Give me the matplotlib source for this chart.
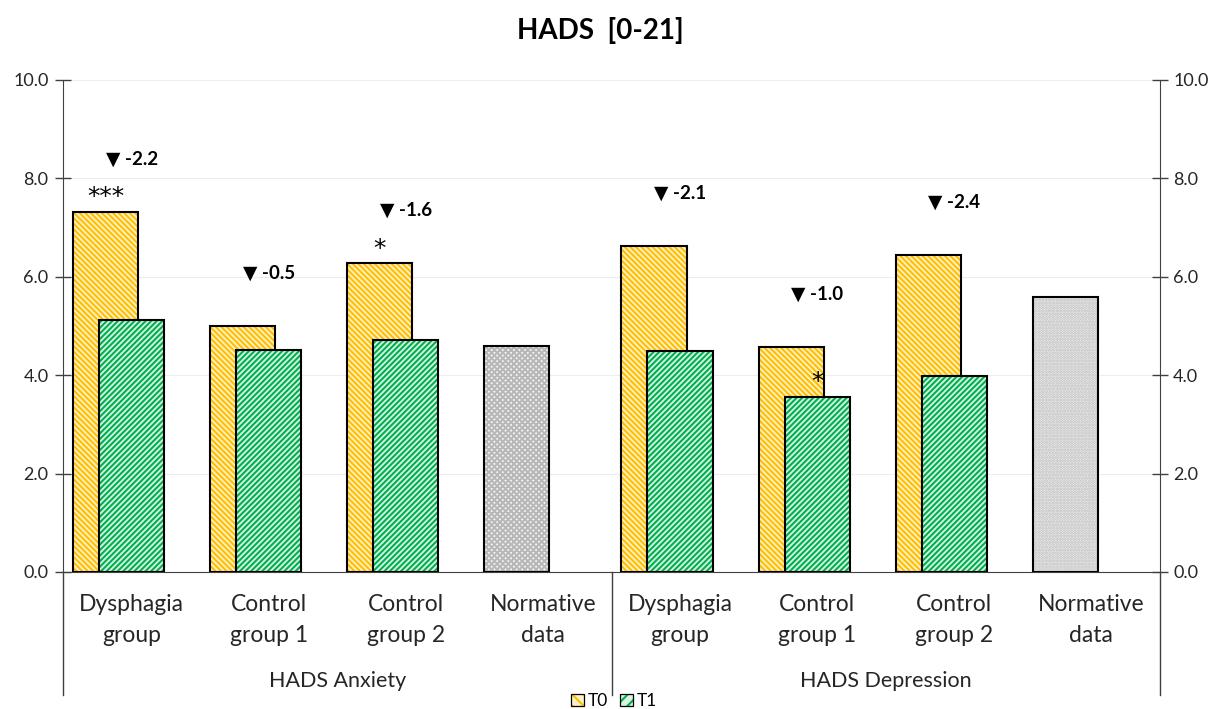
import matplotlib
matplotlib.use("Agg")
import matplotlib.pyplot as plt
import matplotlib.transforms as mtransforms
from matplotlib.patches import Patch
from matplotlib.lines import Line2D
from matplotlib.legend_handler import HandlerTuple
import numpy as np

plt.rcParams['font.family'] = ['Lato', 'DejaVu Sans']
plt.rcParams['hatch.linewidth'] = 1.5

# ---- data ----
categories = ["Dysphagia\ngroup", "Control\ngroup 1", "Control\ngroup 2", "Normative\ndata",
              "Dysphagia\ngroup", "Control\ngroup 1", "Control\ngroup 2", "Normative\ndata"]
groups = ["HADS Anxiety", "HADS Depression"]
study_idx = [0, 1, 2, 4, 5, 6]
norm_idx = [3, 7]
t0 = [7.32, 5.00, 6.28, 6.63, 4.57, 6.44]
t1 = [5.12, 4.51, 4.72, 4.49, 3.56, 3.98]
normative = [4.60, 5.59]
changes = ["-2.2", "-0.5", "-1.6", "-2.1", "-1.0", "-2.4"]
sig_t0 = ["***", "", "*", "", "", ""]
sig_t1 = ["", "", "", "", "*", ""]
series_labels = ["T0", "T1"]

W, H = 1210, 709
fig = plt.figure(figsize=(W / 100, H / 100), dpi=100)
x0, x1 = 63, 1160
y0, y1 = 572, 80
ax = fig.add_axes([x0 / W, (H - y0) / H, (x1 - x0) / W, (y0 - y1) / H])

width = 0.475
off0, off1 = -0.19, 0.0
orange, orange_bg = '#FFBF00', '#FFF1C8'
green, green_bg = '#00B050', '#D8F3E2'
h0 = '\\' * 6
h1 = '/' * 6

xs = np.array(study_idx, dtype=float)
ax.bar(xs + off0, t0, width, color=orange_bg, edgecolor=orange, hatch=h0, linewidth=0, zorder=2)
ax.bar(xs + off0, t0, width, fill=False, edgecolor='black', linewidth=1.5, zorder=3)
ax.bar(xs + off1, t1, width, color=green_bg, edgecolor=green, hatch=h1, linewidth=0, zorder=4)
ax.bar(xs + off1, t1, width, fill=False, edgecolor='black', linewidth=1.5, zorder=5)

xn = np.array(norm_idx, dtype=float)
norm_hatch = ['xxxxxx', '......']
norm_hcol = ['#B8B8B8', '#B8B8B8']
for i, (xv, v) in enumerate(zip(xn, normative)):
    ax.bar(xv + off0, v, width, color='#F6F6F6', edgecolor=norm_hcol[i], hatch=norm_hatch[i], linewidth=0, zorder=2)
    ax.bar(xv + off0, v, width, fill=False, edgecolor='black', linewidth=1.5, zorder=3)

# change annotations
for xv, a, c in zip(xs, t0, changes):
    ax.text(xv, a + 1.08, "\u25BC " + c, ha='center', va='center', fontsize=13.5, fontweight='bold', zorder=6)
for xv, a, s in zip(xs, t0, sig_t0):
    if s:
        ax.text(xv + off0, a + 0.05, s, ha='center', va='bottom', fontsize=18, family='DejaVu Sans', zorder=6)
for xv, a, s in zip(xs, t1, sig_t1):
    if s:
        ax.text(xv + off1, a + 0.05, s, ha='center', va='bottom', fontsize=18, family='DejaVu Sans', zorder=6)

ax.set_xlim(-0.5, 7.5)
ax.set_ylim(0, 10)
ticks = np.arange(0, 10.1, 2)
ax.set_yticks(ticks)
ax.set_yticklabels([f"{v:.1f}" for v in ticks], fontsize=13)
ax.tick_params(axis='y', direction='inout', length=11, width=1.0, colors='#404040', labelcolor='#262626', pad=5)
ax.yaxis.grid(True, color='#EDEDED', linewidth=0.8, zorder=0)
ax.set_axisbelow(True)
ax.set_xticks([])
for side in ['top', 'right']:
    ax.spines[side].set_visible(False)
ax.spines['left'].set_color('#404040')
ax.spines['bottom'].set_color('#404040')

ax2 = ax.twinx()
ax2.set_ylim(0, 10)
ax2.set_yticks(ticks)
ax2.set_yticklabels([f"{v:.1f}" for v in ticks], fontsize=13)
ax2.tick_params(axis='y', direction='inout', length=11, width=1.0, colors='#404040', labelcolor='#262626', pad=4)
for side in ['top', 'left', 'bottom']:
    ax2.spines[side].set_visible(False)
ax2.spines['right'].set_color('#404040')

# category labels
trans = mtransforms.blended_transform_factory(ax.transData, ax.transAxes)
for i, c in enumerate(categories):
    ax.text(i, -0.097, c, transform=trans, ha='center', va='center', fontsize=16.5,
            linespacing=1.6, color='#262626')
for g, xc in zip(groups, [1.5, 5.5]):
    ax.text(xc, -0.222, g, transform=trans, ha='center', va='center', fontsize=15.5, color='#262626')
for xv in [-0.5, 3.5, 7.5]:
    ax.add_line(Line2D([xv, xv], [0, -0.25], transform=trans, color='#404040', linewidth=1.0, clip_on=False))

fig.text(600 / W, 1 - 30 / H, "HADS  [0-21]", ha='center', va='center', fontsize=20, fontweight='bold')

handles = [(Patch(facecolor=orange_bg, edgecolor=orange, hatch='\\\\\\', linewidth=0),
            Patch(fill=False, edgecolor='black', linewidth=0.9)),
           (Patch(facecolor=green_bg, edgecolor=green, hatch='///', linewidth=0),
            Patch(fill=False, edgecolor='black', linewidth=0.9))]
leg = fig.legend(handles, series_labels, loc='center', bbox_to_anchor=(614 / W, 1 - 701 / H), ncol=2,
                 frameon=False, fontsize=12.5, handlelength=0.75, handleheight=0.75, handletextpad=0.2,
                 columnspacing=0.7, borderpad=0, handler_map={tuple: HandlerTuple(ndivide=1)})

fig.savefig("out.png", dpi=100)
